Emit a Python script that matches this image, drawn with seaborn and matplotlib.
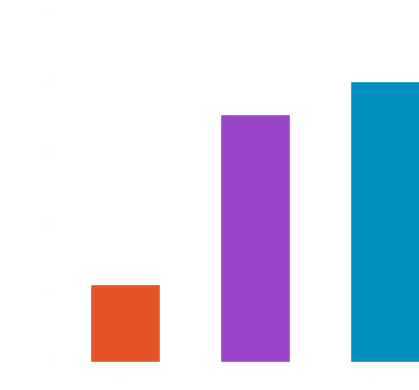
from matplotlib import pyplot as plt
import pandas as pd
import seaborn as sns

# bar data
categories = ['Alpha', 'Beta', 'Gamma']
values = [11.1, 35.5, 40.1]
colors = ['#E55428', '#9A44CC', '#008FBE']
y_ticks = [0, 10, 20, 30, 40, 50]

df = pd.DataFrame({'category': categories, 'value': values})

sns.set_style('white')
fig = plt.figure(figsize=(4.19, 3.9), dpi=100)
ax = fig.add_axes([60 / 419, 28 / 390, 1 - 60 / 419, 1 - 28 / 390])

sns.barplot(data=df, x='category', y='value', hue='category',
            palette=colors, width=0.54, saturation=1, legend=False, ax=ax)

ax.set_xlim(-0.5, 2.265)
ax.set_ylim(0, 362 / 7)
ax.set_yticks(y_ticks)

# labels are almost white in the original
text_color = '#fdfdfd'
ax.tick_params(axis='both', length=0, colors=text_color, labelsize=9)
ax.set_xlabel('')
ax.set_ylabel('')
sns.despine(ax=ax, left=True, bottom=True)

fig.savefig('out.png', dpi=100)
